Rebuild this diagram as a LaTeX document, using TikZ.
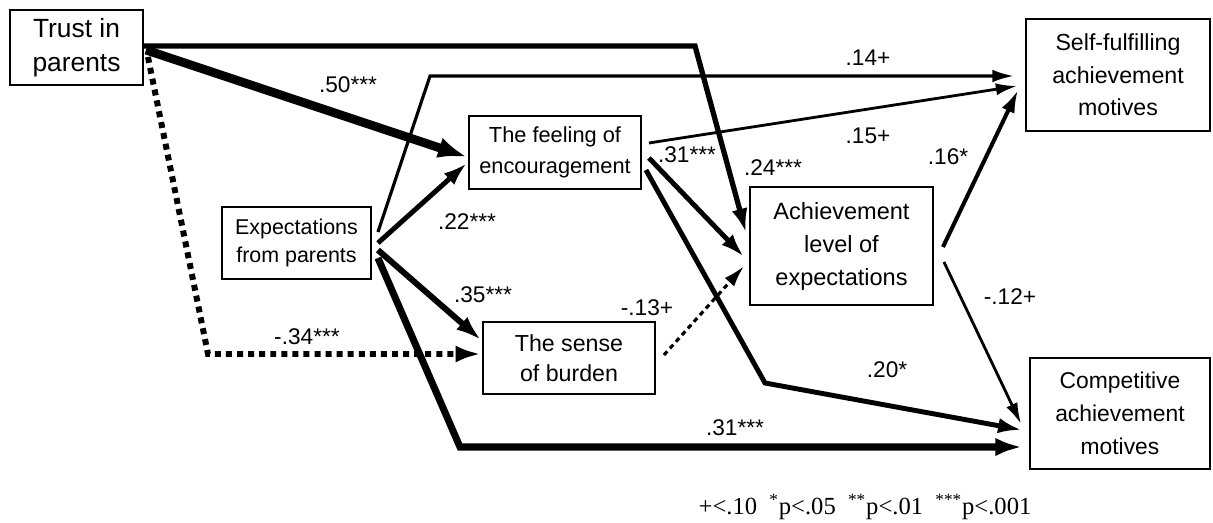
\documentclass[tikz,border=0pt]{standalone}
\usepackage{fontspec}
\setmainfont{Liberation Sans}
\newfontfamily\notefont{Liberation Serif}
\usetikzlibrary{arrows.meta,calc}

\begin{document}
\begin{tikzpicture}
	[x=0.02cm,y=-0.02cm,->,>={Latex[length=10pt 1.3,width=4.5pt 1.5]},
		var node/.style={draw,-,line width=1.1pt,align=center,inner sep=0pt,font=\fontsize{13.2}{18.6}\selectfont},
		coef/.style={font=\fontsize{12.9}{14}\selectfont,inner sep=1pt}]

	\useasboundingbox (0,0) rectangle (1213,523);

	\node[var node, minimum width=2.66cm, minimum height=1.5cm, font=\fontsize{15}{19.3}\selectfont] (T) at (76.5,47.5) {Trust in\\parents};
	\node[var node, minimum width=2.98cm, minimum height=1.44cm, font=\fontsize{12.2}{16}\selectfont] (X) at (296.5,243) {Expectations\\from parents};
	\node[var node, minimum width=3.44cm, minimum height=1.46cm, font=\fontsize{12.4}{18}\selectfont] (E) at (555,152.5) {The feeling of\\encouragement};
	\node[var node, minimum width=3.44cm, minimum height=1.44cm, font=\fontsize{13.2}{17}\selectfont] (B) at (569,358) {The sense\\of burden};
	\node[var node, minimum width=3.66cm, minimum height=2.36cm, font=\fontsize{13.4}{18.8}\selectfont] (A) at (841.5,246) {Achievement\\level of\\expectations};
	\node[var node, minimum width=3.68cm, minimum height=2.24cm] (S) at (1118,75) {Self-fulfilling\\achievement\\motives};
	\node[var node, minimum width=3.6cm, minimum height=2.22cm, font=\fontsize{13}{18.8}\selectfont] (C) at (1120,413.5) {Competitive\\achievement\\motives};

	\coordinate (kTA) at (695,46);
	\coordinate (kTB) at (208,354);
	\coordinate (kXS) at (430,76);
	\coordinate (kXC) at (460,447);
	\coordinate (kEC) at (765,383);

	\draw[line width=3pt] ($(T.east)+(0,-1.5)$) -- (kTA) -- ($(A.west)+(-3,-13)$);
	\draw[line width=5pt] ($(T.east)+(2,2.5)$) -- ($(E.west)+(-1,4.5)$);
	\draw[line width=3.4pt,dash pattern=on 3.4pt off 2.9pt] ($(T.east)+(4,9.5)$) -- (kTB) -- ($(B.west)+(-1,-4)$);
	\draw[line width=1.8pt] ($(X.east)+(6,-11)$) -- (kXS) -- ($(S.west)+(-11,1)$);
	\draw[line width=2.8pt] ($(X.east)+(6,0)$) -- ($(E.west)+(-1,10.5)$);
	\draw[line width=3.4pt] ($(X.east)+(6,7)$) -- ($(B.west)+(-1,-18)$);
	\draw[line width=4pt] ($(X.east)+(6,15)$) -- (kXC) -- ($(C.west)+(-7,33.5)$);
	\draw[line width=1.6pt] ($(E.east)+(7,-9.5)$) -- ($(S.west)+(-8,11)$);
	\draw[line width=2.8pt] ($(E.east)+(7,5.5)$) -- ($(A.west)+(-5,11)$);
	\draw[line width=2.8pt] ($(E.east)+(4,17.5)$) -- (kEC) -- ($(C.west)+(-7,16.5)$);
	\draw[line width=1.8pt,dash pattern=on 2.8pt off 2.3pt] ($(B.east)+(8,-3)$) -- ($(A.west)+(-5,20)$);
	\draw[line width=2.3pt] ($(A.east)+(9,1)$) -- ($(S.west)+(-7,15)$);
	\draw[line width=1.6pt] ($(A.east)+(10,16)$) -- ($(C.west)+(-8,10.5)$);

	\node[coef] (l50) at (348,85) {.50***};
	\node[coef] (l14) at (868,58) {.14+};
	\node[coef] (l15) at (868,136) {.15+};
	\node[coef] (l16) at (948,157) {.16*};
	\node[coef] (l24) at (773,168) {.24***};
	\node[coef] (l31a) at (687,155) {.31***};
	\node[coef] (l22) at (467,222) {.22***};
	\node[coef] (l35) at (483,295) {.35***};
	\node[coef] (l34) at (307,337) {-.34***};
	\node[coef] (l13) at (647,308) {-.13+};
	\node[coef] (l20) at (887,370) {.20*};
	\node[coef] (l31b) at (735,428) {.31***};
	\node[coef] (l12) at (1010,297) {-.12+};

	\node[font=\notefont\fontsize{14}{16}\selectfont,inner sep=0pt] (note) at (865,507)
		{+<.10\hspace{0.5em}\textsuperscript{*}p<.05\hspace{0.5em}\textsuperscript{**}p<.01\hspace{0.5em}\textsuperscript{***}p<.001};

\end{tikzpicture}
\end{document}
